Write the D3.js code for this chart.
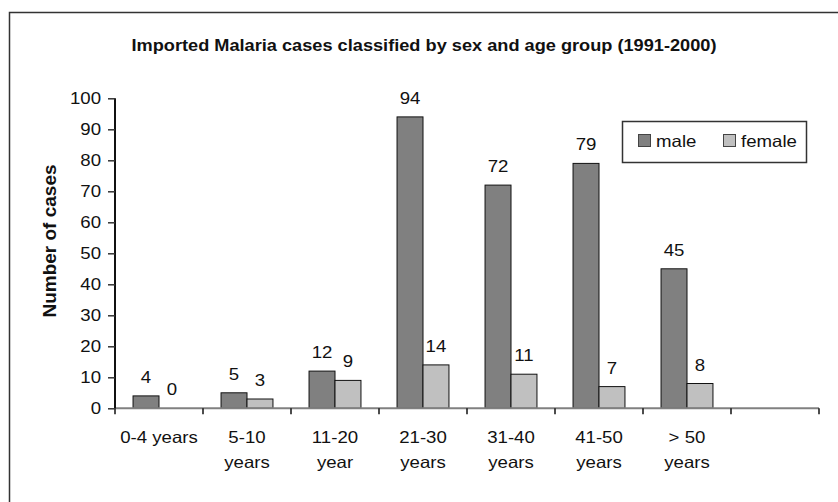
<!DOCTYPE html>
<html>
<head>
<meta charset="utf-8">
<script src="https://cdn.jsdelivr.net/npm/d3@7"></script>
<style>
  body { margin: 0; background: #fff; }
  svg { display: block; font-family: "Liberation Sans", Arial, sans-serif; }
</style>
</head>
<body>
<svg id="chart" width="838" height="502"></svg>
<script>
// ====== DATA ======
const categories = ['0-4 years', '5-10 years', '11-20 year', '21-30 years', '31-40 years', '41-50 years', '> 50 years', ''];
const catLines = [['0-4 years'], ['5-10', 'years'], ['11-20', 'year'], ['21-30', 'years'], ['31-40', 'years'], ['41-50', 'years'], ['> 50', 'years'], []];
const male = [4, 5, 12, 94, 72, 79, 45, null];
const female = [0, 3, 9, 14, 11, 7, 8, null];
const yTicks = [0, 10, 20, 30, 40, 50, 60, 70, 80, 90, 100];
const seriesNames = ['male', 'female'];
const seriesColors = ['#808080', '#c0c0c0'];

// ====== LAYOUT ======
const svg = d3.select('#chart');
const plot = { left: 115, right: 819, top: 98.3, bottom: 408.3 };
const FS = 16.5;   // body text size
const SX = 1.13;   // the source text is a little wide, stretch it

// text with a horizontal stretch around its anchor point
function label(parent, px, py, str, anchor) {
    return parent.append('text')
        .attr('transform', `translate(${px},${py}) scale(${SX},1)`)
        .attr('text-anchor', anchor || 'middle')
        .attr('font-size', FS)
        .attr('fill', '#111')
        .text(str);
}

// outer frame (runs off the right and bottom edges)
svg.append('rect')
    .attr('x', 9.5).attr('y', 12.5)
    .attr('width', 840).attr('height', 500)
    .attr('fill', 'none')
    .attr('stroke', '#333')
    .attr('stroke-width', 1.5);

svg.append('text')
    .attr('x', 424).attr('y', 51)
    .attr('text-anchor', 'middle')
    .attr('font-weight', 'bold')
    .attr('font-size', 16.5)
    .attr('textLength', 585)
    .attr('lengthAdjust', 'spacingAndGlyphs')
    .attr('fill', '#111')
    .text('Imported Malaria cases classified by sex and age group (1991-2000)');

const x = d3.scaleBand()
    .domain(d3.range(categories.length))
    .range([plot.left, plot.right])
    .paddingInner(0).paddingOuter(0);

const y = d3.scaleLinear().domain([0, 100]).range([plot.bottom, plot.top]);

const bw = x.bandwidth();
const groupPad = bw * 0.205;
const barW = (bw - 2 * groupPad) / 2;

// ====== BARS ======
[male, female].forEach(function(vals, s) {
    const g = svg.append('g');
    vals.forEach(function(v, i) {
        if (v === null) return;
        const bx = x(i) + groupPad + s * barW;
        g.append('rect')
            .attr('x', bx).attr('y', y(v))
            .attr('width', barW).attr('height', y(0) - y(v))
            .attr('fill', seriesColors[s])
            .attr('stroke', '#111')
            .attr('stroke-width', v === 0 ? 0 : 1);
        label(g, bx + barW / 2, y(v) - 13, v);
    });
});

// ====== AXES ======
// x axis line (grey) with black tick marks at band edges
svg.append('line')
    .attr('x1', plot.left).attr('x2', plot.right)
    .attr('y1', plot.bottom).attr('y2', plot.bottom)
    .attr('stroke', '#808080').attr('stroke-width', 2);

const edges = d3.range(categories.length + 1).map(i => plot.left + i * bw);
svg.selectAll('.xtick').data(edges).enter().append('line')
    .attr('x1', d => d).attr('x2', d => d)
    .attr('y1', plot.bottom).attr('y2', plot.bottom + 6)
    .attr('stroke', '#111').attr('stroke-width', 1.5);

catLines.forEach(function(lines, i) {
    lines.forEach(function(line, k) {
        label(svg, x(i) + bw / 2, 443 + k * 25, line);
    });
});

// y axis
const yAxis = d3.axisLeft(y).tickValues(yTicks).tickSize(7).tickPadding(7);
const yg = svg.append('g')
    .attr('transform', `translate(${plot.left},0)`)
    .call(yAxis);
yg.select('.domain').attr('stroke', '#111').attr('stroke-width', 2)
    .attr('d', `M0,${plot.top}V${plot.bottom}`);
yg.selectAll('.tick line').attr('stroke', '#333').attr('stroke-width', 1.5);
yg.selectAll('.tick text')
    .attr('x', -14 / SX)
    .attr('transform', `scale(${SX},1)`)
    .attr('font-size', FS)
    .attr('font-family', '"Liberation Sans", Arial, sans-serif')
    .attr('fill', '#111');

svg.append('text')
    .attr('transform', 'translate(56,241) rotate(-90)')
    .attr('text-anchor', 'middle')
    .attr('font-weight', 'bold')
    .attr('font-size', 19)
    .attr('fill', '#111')
    .text('Number of cases');

// ====== LEGEND ======
const legend = svg.append('g');
legend.append('rect')
    .attr('x', 622.5).attr('y', 121.5)
    .attr('width', 184).attr('height', 41)
    .attr('fill', '#fff')
    .attr('stroke', '#333').attr('stroke-width', 1.5);

const legX = [638, 723];
seriesNames.forEach(function(name, s) {
    legend.append('rect')
        .attr('x', legX[s] + 0.5).attr('y', 134.5)
        .attr('width', 12).attr('height', 12)
        .attr('fill', seriesColors[s])
        .attr('stroke', '#444').attr('stroke-width', 1);
    label(legend, legX[s] + 18, 147, name, 'start');
});
</script>
</body>
</html>
